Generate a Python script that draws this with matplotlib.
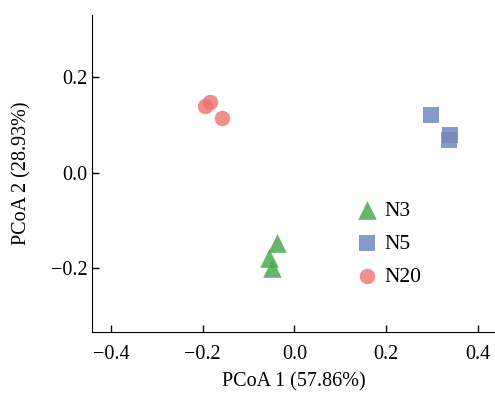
import numpy as np
import matplotlib
matplotlib.use("Agg")
import matplotlib.pyplot as plt

plt.rcParams['font.family'] = ['Liberation Serif', 'DejaVu Serif']

# PCoA coordinates
n3_x = [-0.039, -0.055, -0.048]
n3_y = [-0.147, -0.178, -0.199]
n5_x = [0.298, 0.338, 0.336]
n5_y = [0.121, 0.078, 0.068]
n20_x = [-0.196, -0.183, -0.157]
n20_y = [0.140, 0.147, 0.115]

fig = plt.figure(figsize=(4.95, 3.94), dpi=100)
ax = fig.add_axes([0.186, 0.157, 0.814, 0.805])

ax.scatter(n3_x, n3_y, marker='^', s=180, color='#4aab52', alpha=0.85, linewidths=0, label='N3')
ax.scatter(n5_x, n5_y, marker='s', s=130, color='#7389c2', alpha=0.85, linewidths=0, label='N5')
ax.scatter(n20_x, n20_y, marker='o', s=125, color='#ef7270', alpha=0.8, linewidths=0, label='N20')

ax.set_xlim(-0.441, 0.437)
ax.set_ylim(-0.334, 0.33)
ax.set_xticks([-0.4, -0.2, 0.0, 0.2, 0.4])
ax.set_yticks([-0.2, 0.0, 0.2])
ax.set_xticklabels(['\u22120.4', '\u22120.2', '0.0', '0.2', '0.4'])
ax.set_yticklabels(['\u22120.2', '0.0', '0.2'])
ax.tick_params(direction='in', labelsize=14.5, length=5, width=1)
ax.tick_params(axis='x', pad=9)
ax.spines['top'].set_visible(False)
ax.spines['right'].set_visible(False)
ax.set_xlabel('PCoA 1 (57.86%)', fontsize=14.5, labelpad=6)
ax.set_ylabel('PCoA 2 (28.93%)', fontsize=14.5, labelpad=14)

ax.legend(loc='upper left', bbox_to_anchor=(0.655, 0.415), frameon=False,
          fontsize=15.5, handlelength=1.0, handletextpad=0.3,
          labelspacing=0.6, borderpad=0, borderaxespad=0)

fig.savefig('out.png', dpi=100)
